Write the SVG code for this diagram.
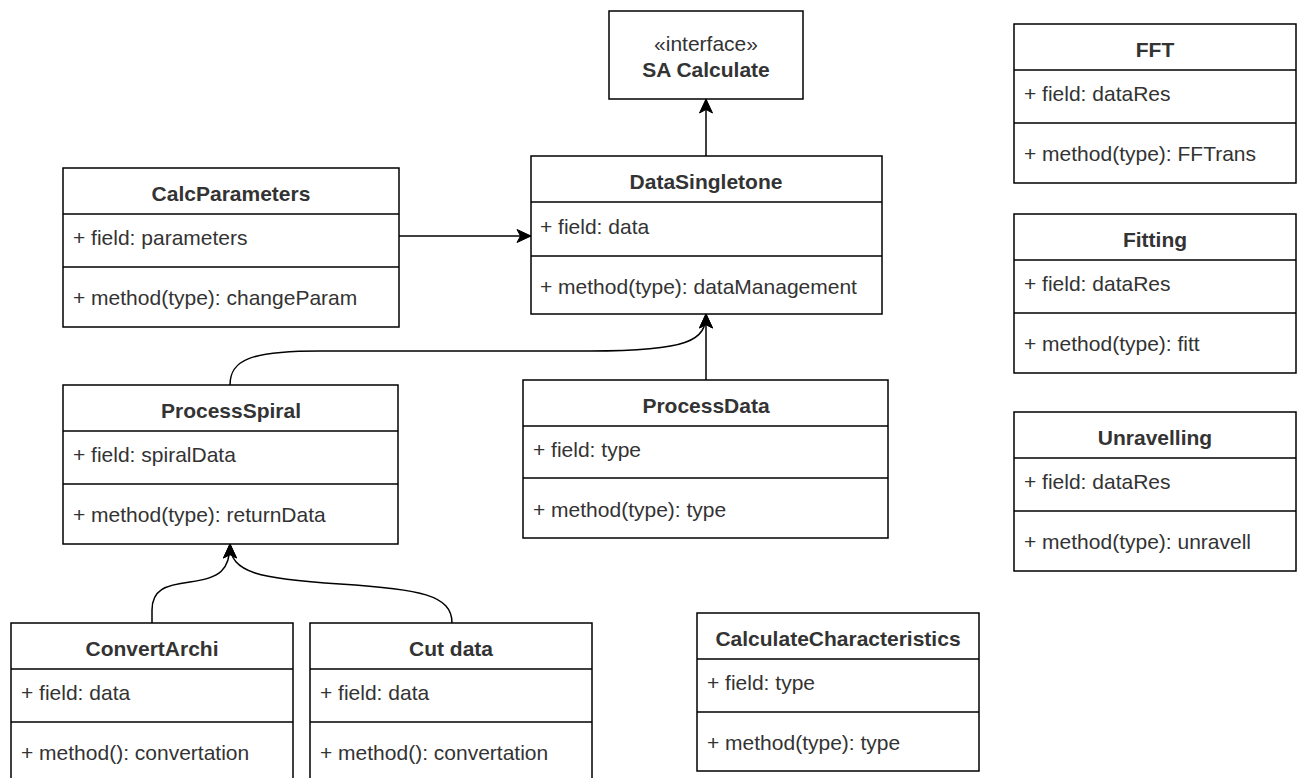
<svg xmlns="http://www.w3.org/2000/svg" width="1302" height="778" viewBox="0 0 1302 778">
<style>
.box{fill:#fff;stroke:#000;stroke-width:1.5}
.div{stroke:#000;stroke-width:1.5}
.t{font-family:"Liberation Sans",Arial,sans-serif;font-size:21px;fill:#333}
.b{font-weight:bold;text-anchor:middle}
.c{text-anchor:middle}
.edge{fill:none;stroke:#000;stroke-width:1.5;marker-end:url(#arr)}
</style>
<defs>
<marker id="arr" markerUnits="userSpaceOnUse" markerWidth="16" markerHeight="16" viewBox="0 0 16 16" refX="15" refY="8" orient="auto">
<path d="M1,1.5 L15,8 L1,14.5 L4.5,8 Z" fill="#000" stroke="#000" stroke-width="1"/>
</marker>
</defs>
<rect width="1302" height="778" fill="#fff"/>
<g id="connectors">
<path class="edge" d="M706,156 L706,99"/>
<path class="edge" d="M399,236 L531,236"/>
<path class="edge" d="M706,380 L706,314"/>
<path class="edge" d="M230,385 C230,360 250,351 320,351 L590,351 C690,351 706,340 706,314"/>
<path class="edge" d="M152,623 L152,610 C152,590 165,585 190,582 C220,578 230,570 230,544"/>
<path class="edge" d="M452,623 C452,595 420,589 340,584 C260,579 230,573 230,544"/>
</g>
<g id="interface">
<rect class="box" x="609" y="11" width="194" height="88"/>
<text class="t c" x="706" y="51">«interface»</text>
<text class="t b" x="706" y="77">SA Calculate</text>
</g>
<g id="DataSingletone">
<rect class="box" x="531" y="156" width="351" height="158"/>
<line class="div" x1="531" y1="202" x2="882" y2="202"/>
<line class="div" x1="531" y1="256" x2="882" y2="256"/>
<text class="t b" x="706" y="189">DataSingletone</text>
<text class="t" x="540" y="234">+ field: data</text>
<text class="t" x="540" y="294">+ method(type): dataManagement</text>
</g>
<g id="CalcParameters">
<rect class="box" x="63" y="168" width="336" height="159"/>
<line class="div" x1="63" y1="214" x2="399" y2="214"/>
<line class="div" x1="63" y1="267" x2="399" y2="267"/>
<text class="t b" x="231" y="201">CalcParameters</text>
<text class="t" x="73" y="245">+ field: parameters</text>
<text class="t" x="73" y="305">+ method(type): changeParam</text>
</g>
<g id="ProcessSpiral">
<rect class="box" x="63" y="385" width="335" height="159"/>
<line class="div" x1="63" y1="431" x2="398" y2="431"/>
<line class="div" x1="63" y1="484" x2="398" y2="484"/>
<text class="t b" x="231" y="418">ProcessSpiral</text>
<text class="t" x="73" y="462">+ field: spiralData</text>
<text class="t" x="73" y="522">+ method(type): returnData</text>
</g>
<g id="ProcessData">
<rect class="box" x="523" y="380" width="365" height="158"/>
<line class="div" x1="523" y1="426" x2="888" y2="426"/>
<line class="div" x1="523" y1="478" x2="888" y2="478"/>
<text class="t b" x="706" y="413">ProcessData</text>
<text class="t" x="533" y="457">+ field: type</text>
<text class="t" x="533" y="517">+ method(type): type</text>
</g>
<g id="ConvertArchi">
<rect class="box" x="11" y="623" width="282" height="159"/>
<line class="div" x1="11" y1="669" x2="293" y2="669"/>
<line class="div" x1="11" y1="722" x2="293" y2="722"/>
<text class="t b" x="152" y="656">ConvertArchi</text>
<text class="t" x="21" y="700">+ field: data</text>
<text class="t" x="21" y="760">+ method(): convertation</text>
</g>
<g id="CutData">
<rect class="box" x="310" y="623" width="282" height="159"/>
<line class="div" x1="310" y1="669" x2="592" y2="669"/>
<line class="div" x1="310" y1="722" x2="592" y2="722"/>
<text class="t b" x="451" y="656">Cut data</text>
<text class="t" x="320" y="700">+ field: data</text>
<text class="t" x="320" y="760">+ method(): convertation</text>
</g>
<g id="CalculateCharacteristics">
<rect class="box" x="697" y="613" width="282" height="158"/>
<line class="div" x1="697" y1="659" x2="979" y2="659"/>
<line class="div" x1="697" y1="712" x2="979" y2="712"/>
<text class="t b" x="838" y="646">CalculateCharacteristics</text>
<text class="t" x="707" y="690">+ field: type</text>
<text class="t" x="707" y="750">+ method(type): type</text>
</g>
<g id="FFT">
<rect class="box" x="1014" y="24" width="282" height="159"/>
<line class="div" x1="1014" y1="70" x2="1296" y2="70"/>
<line class="div" x1="1014" y1="123" x2="1296" y2="123"/>
<text class="t b" x="1155" y="57">FFT</text>
<text class="t" x="1024" y="101">+ field: dataRes</text>
<text class="t" x="1024" y="161">+ method(type): FFTrans</text>
</g>
<g id="Fitting">
<rect class="box" x="1014" y="214" width="282" height="159"/>
<line class="div" x1="1014" y1="260" x2="1296" y2="260"/>
<line class="div" x1="1014" y1="313" x2="1296" y2="313"/>
<text class="t b" x="1155" y="247">Fitting</text>
<text class="t" x="1024" y="291">+ field: dataRes</text>
<text class="t" x="1024" y="351">+ method(type): fitt</text>
</g>
<g id="Unravelling">
<rect class="box" x="1014" y="412" width="282" height="159"/>
<line class="div" x1="1014" y1="458" x2="1296" y2="458"/>
<line class="div" x1="1014" y1="511" x2="1296" y2="511"/>
<text class="t b" x="1155" y="445">Unravelling</text>
<text class="t" x="1024" y="489">+ field: dataRes</text>
<text class="t" x="1024" y="549">+ method(type): unravell</text>
</g>
</svg>
